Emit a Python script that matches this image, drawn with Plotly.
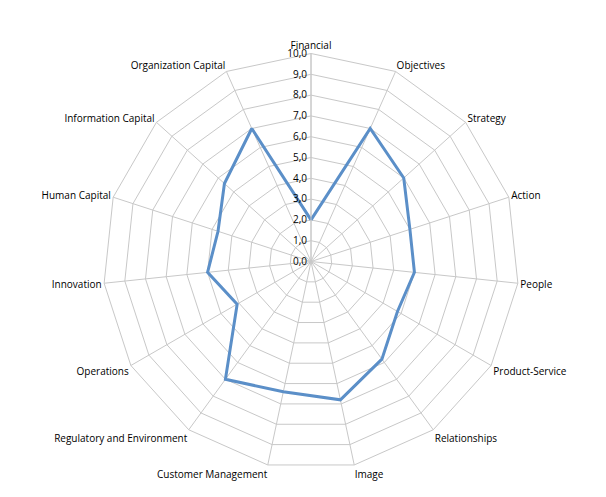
import plotly.graph_objects as go

categories = ["Financial", "Objectives", "Strategy", "Action", "People", "Product-Service",
              "Relationships", "Image", "Customer Management", "Regulatory and Environment",
              "Operations", "Innovation", "Human Capital", "Information Capital", "Organization Capital"]
values = [2.0, 7.0, 6.0, 5.0, 5.0, 4.8, 5.8, 6.8, 6.4, 7.0, 4.1, 5.0, 4.7, 5.6, 7.0]

fig = go.Figure()
fig.add_trace(go.Scatterpolar(
    r=values + values[:1], theta=categories + categories[:1],
    mode="lines", line=dict(color="#5b8fc8", width=3), showlegend=False,
))

fig.update_layout(
    width=606, height=497,
    separators=",.",
    paper_bgcolor="white",
    margin=dict(l=95, r=95, t=20, b=10),
    font=dict(family="Open Sans", size=10, color="black"),
    polar=dict(
        bgcolor="white",
        gridshape="linear",
        domain=dict(x=[0, 1], y=[0, 1]),
        angularaxis=dict(direction="clockwise", rotation=90, gridcolor="#c8c8c8",
                         linecolor="#c8c8c8", showline=True, ticks=""),
        radialaxis=dict(range=[0, 10], dtick=1, tickformat=".1f", angle=90, tickangle=90,
                        side="counterclockwise",
                        gridcolor="#c8c8c8", linecolor="#c8c8c8", showline=True,
                        ticks="", tickfont=dict(size=10)),
    ),
)

fig.write_html("out.html")
